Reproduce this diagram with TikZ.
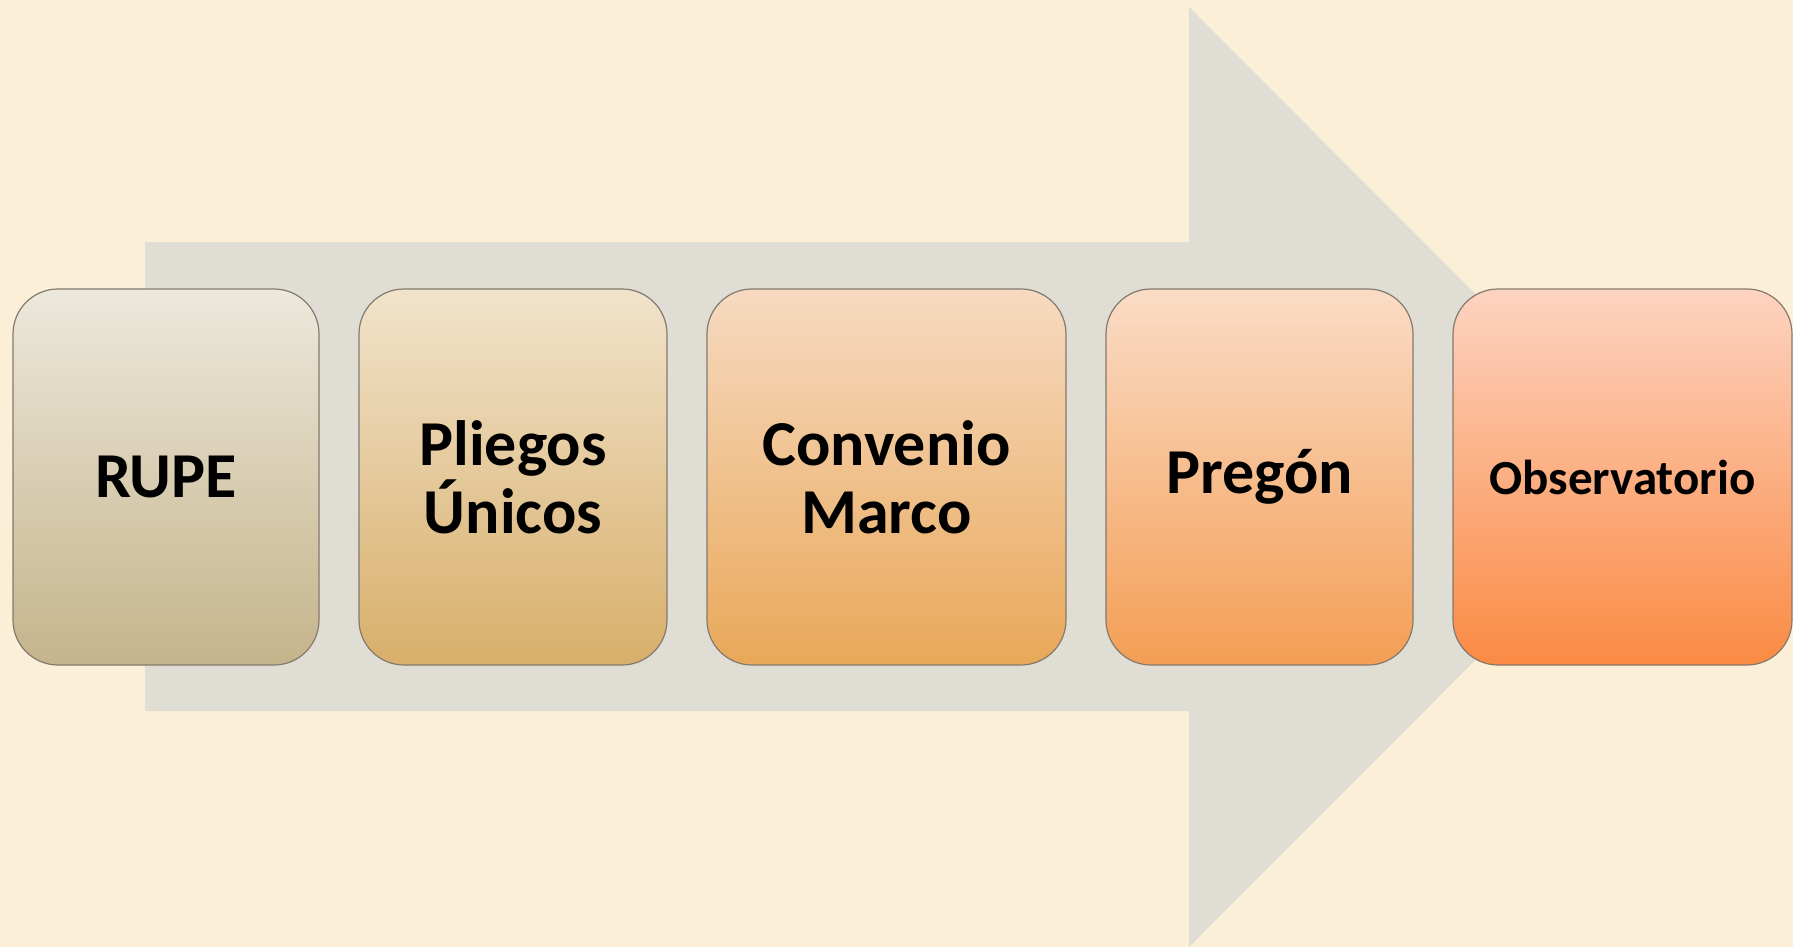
\documentclass[tikz,border=0pt]{standalone}
\usepackage{fontspec}
\setmainfont{Carlito}
\usepackage{tikz}
\usetikzlibrary{positioning}
\definecolor{paper}{HTML}{FCEFD7}
\definecolor{arrowgray}{HTML}{E0DDD5}
\definecolor{edge}{HTML}{847A6D}
\definecolor{rupetop}{HTML}{ECE8DB}
\definecolor{rupebot}{HTML}{C5B48B}
\definecolor{pliegostop}{HTML}{F1E3CC}
\definecolor{pliegosbot}{HTML}{D8AF6A}
\definecolor{conveniotop}{HTML}{F6DAC1}
\definecolor{conveniobot}{HTML}{E9A859}
\definecolor{pregontop}{HTML}{FADCC6}
\definecolor{pregonbot}{HTML}{F49E55}
\definecolor{observtop}{HTML}{FDD3C1}
\definecolor{observbot}{HTML}{FA8A43}
\tikzstyle{stage} = [draw=edge, line width=1.2pt, rounded corners=45pt,
    minimum height=376pt, inner sep=0pt, outer sep=0pt, align=center,
    font=\bfseries\fontsize{64}{68}\selectfont]

\begin{document}
\begin{tikzpicture}[x=1pt, y=-1pt, node distance=40pt]
    % Paper and the big grey arrow behind the stages
    \useasboundingbox (0,0) rectangle (1793,947);
    \fill [paper] (0,0) rectangle (1793,947);
    \fill [arrowgray] (145,242) -- (1189,242) -- (1189,7) -- (1658,477)
        -- (1189,947) -- (1189,711) -- (145,711) -- cycle;

    % We place the stages one after the other
    \node [stage, top color=rupetop, bottom color=rupebot, minimum width=306pt, anchor=west] (rupe) at (13,477) {RUPE};
    \node [stage, top color=pliegostop, bottom color=pliegosbot, minimum width=308pt, right=of rupe] (pliegos) {Pliegos\\Únicos};
    \node [stage, top color=conveniotop, bottom color=conveniobot, minimum width=359pt, right=of pliegos] (convenio) {Convenio\\Marco};
    \node [stage, top color=pregontop, bottom color=pregonbot, minimum width=307pt, right=of convenio] (pregon) {Pregón};
    \node [stage, top color=observtop, bottom color=observbot, minimum width=339pt, right=of pregon,
        font=\bfseries\fontsize{49}{60}\selectfont] (observ) {Observatorio};
\end{tikzpicture}
\end{document}
